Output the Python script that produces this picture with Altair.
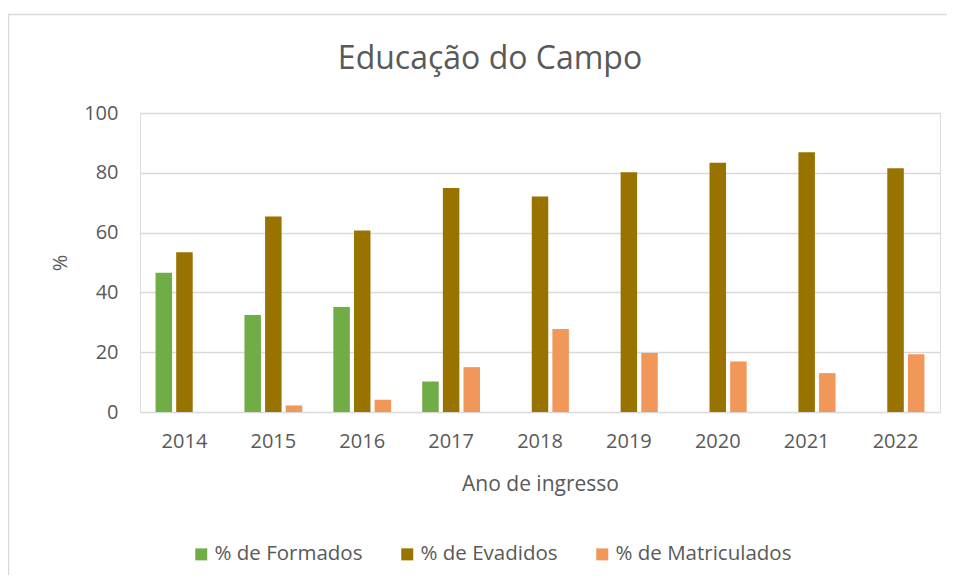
import altair as alt
import pandas as pd

anos = ["2014", "2015", "2016", "2017", "2018", "2019", "2020", "2021", "2022"]
formados = [46.6, 32.4, 35.1, 10.2, 0, 0, 0, 0, 0]
evadidos = [53.4, 65.4, 60.7, 74.9, 72.1, 80.2, 83.4, 86.9, 81.5]
matriculados = [0, 2.2, 4.1, 15.0, 27.8, 19.7, 16.9, 13.0, 19.3]
series = ["% de Formados", "% de Evadidos", "% de Matriculados"]
cores = ["#70AD47", "#997300", "#F1975A"]
y_ticks = [0, 20, 40, 60, 80, 100]

rows = []
for i, a in enumerate(anos):
    for s, vals in zip(series, [formados, evadidos, matriculados]):
        rows.append({"ano": a, "serie": s, "valor": vals[i]})
df = pd.DataFrame(rows)

FONT = "Open Sans"
GRAY = "#595959"

bars = alt.Chart(df).mark_bar().encode(
    x=alt.X("ano:N", sort=anos,
            scale=alt.Scale(paddingInner=0.35, paddingOuter=0.175),
            axis=alt.Axis(title="Ano de ingresso", labelAngle=0, domain=False, ticks=False,
                          tickSize=0, labelPadding=19, labelFontSize=20, labelColor=GRAY,
                          labelFont=FONT, titleFont=FONT, titleFontSize=21, titleColor=GRAY,
                          titleFontWeight="normal", titleY=61, grid=False)),
    xOffset=alt.XOffset("serie:N", sort=series, scale=alt.Scale(paddingInner=0.2)),
    y=alt.Y("valor:Q", scale=alt.Scale(domain=[0, 100], nice=False),
            axis=alt.Axis(title="%", values=y_ticks, domain=False, ticks=False, tickSize=0,
                          labelPadding=22, labelFontSize=20, labelColor=GRAY, labelFont=FONT,
                          titleFont=FONT, titleFontSize=20, titleColor=GRAY,
                          titleFontWeight="normal", titleX=-80, titleY=149.5,
                          titleBaseline="middle", gridColor="#D9D9D9", gridWidth=1.3)),
    color=alt.Color("serie:N", sort=series,
                    scale=alt.Scale(domain=series, range=cores),
                    legend=alt.Legend(title=None, orient="none", legendX=51, legendY=431,
                                      direction="horizontal", symbolType="square",
                                      symbolSize=144, symbolStrokeWidth=0, labelFontSize=20.5,
                                      labelFont=FONT, labelColor=GRAY, labelOffset=3,
                                      columnPadding=34, labelLimit=400)),
)

frame = alt.Chart(pd.DataFrame({"k": [0]})).mark_rect(
    fill="transparent", stroke="#D9D9D9", strokeWidth=1.5
).encode(
    x=alt.value(-131.5), x2=alt.value(830), y=alt.value(-98.5), y2=alt.value(500)
)

chart = alt.layer(frame, bars).properties(
    width=800, height=299,
    padding={"left": 132, "top": 105, "right": 7, "bottom": 163},
    autosize=alt.AutoSizeParams(type="none"),
    title=alt.TitleParams("Educação do Campo", font=FONT, fontSize=32, color=GRAY,
                          fontWeight="normal", dx=-50, dy=62, offset=0, anchor="middle"),
).configure_view(stroke=None).configure(background="white")

chart.save("out.html", embed_options={"renderer": "svg", "actions": False})
